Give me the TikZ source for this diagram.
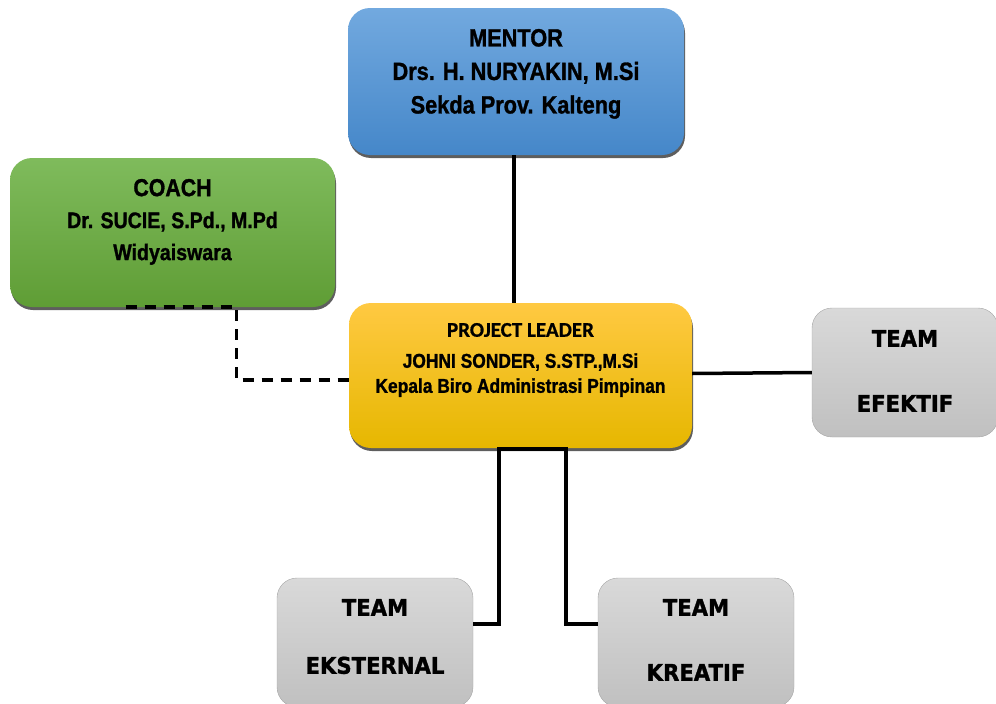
\documentclass[tikz,border=0pt]{standalone}
\usepackage{fontspec}
\newfontfamily\narrowsans[FakeStretch=0.87,BoldFeatures={FakeBold=1.2}]{Liberation Sans}
\newfontfamily\calibrisans[BoldFeatures={FakeBold=0.6}]{Carlito}
\newfontfamily\tahomasans[FakeStretch=0.92,BoldFeatures={FakeBold=1.4}]{DejaVu Sans}
\usetikzlibrary{positioning,shadows}

\definecolor{mentortop}{HTML}{72A9DF}
\definecolor{mentorbot}{HTML}{4587C9}
\definecolor{coachtop}{HTML}{7FBB5C}
\definecolor{coachbot}{HTML}{5F9D35}
\definecolor{leadtop}{HTML}{FFC942}
\definecolor{leadbot}{HTML}{E6B700}
\definecolor{teamtop}{HTML}{D9D9D9}
\definecolor{teambot}{HTML}{C0C0C0}
\definecolor{teamline}{HTML}{A6A6A6}
\definecolor{boxshadow}{HTML}{5E5E5E}

\begin{document}
\begin{tikzpicture}[x=1pt,y=-1pt]
\tikzset{
  mainbox/.style={rectangle,rounded corners=22pt,inner sep=0pt,
    general shadow={fill=boxshadow,shadow yshift=-3pt,shadow xshift=1pt}},
  teambox/.style={rectangle,rounded corners=20pt,inner sep=0pt,draw=teamline,
    top color=teamtop,bottom color=teambot,minimum width=196pt,minimum height=129pt},
  boxtext/.style={inner sep=0pt,align=center},
  mainfont/.style={font=\narrowsans\bfseries\fontsize{#1}{33.5}\selectfont},
  teamfont/.style={font=\tahomasans\bfseries\fontsize{23}{28}\selectfont},
  link/.style={line width=3.5pt},
  dashlink/.style={line width=3.5pt,dash pattern=on 11pt off 8pt}
}
\useasboundingbox (0,0) rectangle (996,704);

% boxes
\node[mainbox,top color=mentortop,bottom color=mentorbot,minimum width=336pt,minimum height=147pt] (n_mentor) at (516,81.5) {};
\node[mainbox,top color=coachtop,bottom color=coachbot,minimum width=325pt,minimum height=149pt] (n_coach) at (172.5,232.5) {};
\node[mainbox,top color=leadtop,bottom color=leadbot,minimum width=343pt,minimum height=145pt] (n_lead) at (520.5,375.5) {};
\node[teambox,minimum width=186pt] (n_efektif) at (905,372.5) {};
\node[teambox] (n_eksternal) at (375,642.5) {};
\node[teambox] (n_kreatif) at (696,642.5) {};

% texts
\node[boxtext,mainfont=25,below=21pt of n_mentor.north] (t_mentor)
  {MENTOR\\Drs. H. NURYAKIN, M.Si\\Sekda Prov. Kalteng};
\node[boxtext,font=\narrowsans\bfseries\fontsize{22.5}{32}\selectfont,below=21pt of n_coach.north] (t_coach)
  {{\fontsize{24.5}{32}\selectfont COACH}\\Dr. SUCIE, S.Pd., M.Pd\\Widyaiswara};
\node[boxtext,font=\narrowsans\bfseries\fontsize{20}{25}\selectfont,below=20pt of n_lead.north] (t_lead)
  {{\calibrisans\bfseries\fontsize{21}{25}\selectfont PROJECT LEADER}\\[6pt]JOHNI SONDER, S.STP.,M.Si\\Kepala Biro Administrasi Pimpinan};
\node[boxtext,teamfont,below=22pt of n_efektif.north] (t_efektif) {TEAM\\[37pt]EFEKTIF};
\node[boxtext,teamfont,below=21pt of n_eksternal.north] (t_eksternal) {TEAM\\[30pt]EKSTERNAL};
\node[boxtext,teamfont,below=21pt of n_kreatif.north] (t_kreatif) {TEAM\\[37pt]KREATIF};

% connectors
\draw[link] ([xshift=-2pt]n_mentor.south) -- ([xshift=-2pt]n_mentor.south |- n_lead.north);
\draw[dashlink] ([xshift=-47pt]n_coach.south) -- ++(111,0) |- ([yshift=-4.5pt]n_lead.west);
\draw[link] ([yshift=2pt]n_lead.east) -- (n_efektif.west);
\draw[link] ([xshift=6.5pt,yshift=-1pt]n_lead.south) -- ++(-28,0) |- ([yshift=18.5pt]n_eksternal.east);
\draw[link] ([xshift=6.5pt,yshift=-1pt]n_lead.south) -- ++(39,0) |- ([yshift=18.5pt]n_kreatif.west);
\end{tikzpicture}
\end{document}
